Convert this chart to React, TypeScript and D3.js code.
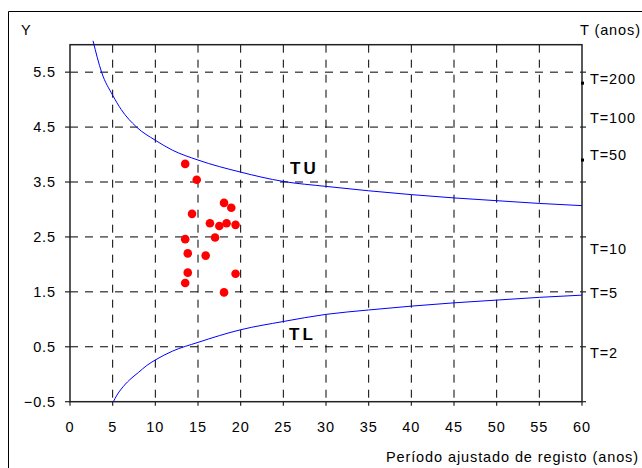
import React from "react";
import * as d3 from "d3";

// Adjusted record length (years) and reduced variate of the observed series
const obsPeriod = [13.5, 14.85, 18.05, 18.9, 14.3, 16.4, 17.5, 18.35, 19.4, 17.0, 13.5, 13.8, 15.9, 13.8, 19.4, 13.5, 18.05];
const obsY = [3.83, 3.54, 3.12, 3.03, 2.92, 2.75, 2.7, 2.75, 2.72, 2.49, 2.46, 2.2, 2.16, 1.85, 1.83, 1.66, 1.49];

// Upper limit curve (TU)
const tuPeriod = [2.7, 3.7, 5, 6, 7.8, 10, 12, 15, 20, 25, 30, 35, 40, 45, 50, 55, 60];
const tuY = [6.07, 5.5, 5.08, 4.82, 4.5, 4.26, 4.08, 3.9, 3.68, 3.51, 3.42, 3.34, 3.27, 3.21, 3.16, 3.11, 3.07];

// Lower limit curve (TL)
const tlPeriod = [5.08, 5.5, 6, 7, 8, 9, 10, 12, 15, 20, 25, 30, 35, 40, 45, 50, 55, 60];
const tlY = [-0.5, -0.38, -0.27, -0.1, 0.03, 0.16, 0.26, 0.42, 0.58, 0.81, 0.96, 1.09, 1.17, 1.24, 1.3, 1.35, 1.4, 1.44];

// Return periods on the secondary axis: label position and marker position (reduced variate)
const returnPeriods = ["T=2", "T=5", "T=10", "T=50", "T=100", "T=200"];
const returnLabelY = [0.39, 1.485, 2.275, 3.99, 4.67, 5.38];
const markedPeriods = ["T=50", "T=200"];
const markedY = [3.9, 5.3];

const xTicks = [0, 5, 10, 15, 20, 25, 30, 35, 40, 45, 50, 55, 60];
const yTicks = [-0.5, 0.5, 1.5, 2.5, 3.5, 4.5, 5.5];

const FONT = "'Liberation Sans', Arial, sans-serif";
const FS = 14.5;
const LS = 0.9;

export default function App() {
  const W = 642;
  const H = 468;
  const left = 70;
  const right = 582;
  const top = 44.7;
  const bottom = 401.7;

  const x = d3.scaleLinear().domain([0, 60]).range([left, right]);
  const y = d3.scaleLinear().domain([-0.5, 6]).range([bottom, top]);

  const line = d3
    .line<[number, number]>()
    .x((d) => x(d[0]))
    .y((d) => y(d[1]))
    .curve(d3.curveMonotoneX);

  const tu = line(tuPeriod.map((p, i) => [p, tuY[i]] as [number, number])) || "";
  const tl = line(tlPeriod.map((p, i) => [p, tlY[i]] as [number, number])) || "";

  const dash = "8,7";

  return (
    <svg
      width={W}
      height={H}
      style={{ position: "absolute", left: 0, top: 0, background: "#fff" }}
      fontFamily={FONT}
    >
      <rect x={0} y={0} width={W} height={H} fill="#fff" />
      {/* outer chart frame */}
      <path d={`M8.5,${H} V11.5 H${W}`} fill="none" stroke="#000" strokeWidth={1} />

      {/* grid */}
      {yTicks
        .filter((t) => t > -0.5)
        .map((t) => (
          <line key={"gy" + t} x1={left} x2={right} y1={y(t)} y2={y(t)} stroke="#000" strokeWidth={1} strokeDasharray={dash} />
        ))}
      {xTicks
        .filter((t) => t > 0 && t < 60)
        .map((t) => (
          <line key={"gx" + t} x1={x(t)} x2={x(t)} y1={top} y2={bottom} stroke="#000" strokeWidth={1} strokeDasharray={dash} />
        ))}

      {/* plot frame / axes */}
      <rect x={left} y={top} width={right - left} height={bottom - top} fill="none" stroke="#222" strokeWidth={1.5} />

      {/* left ticks and labels */}
      {yTicks.map((t) => (
        <g key={"ly" + t}>
          <line x1={left - 5} x2={left} y1={y(t)} y2={y(t)} stroke="#222" strokeWidth={1.2} />
          <text x={left - 14} y={y(t)} dy="0.35em" textAnchor="end" fontSize={FS} letterSpacing={LS} fill="#000">
            {d3.format(".1f")(t)}
          </text>
        </g>
      ))}
      {/* right ticks */}
      {yTicks.map((t) => (
        <line key={"ry" + t} x1={right} x2={right + 4} y1={y(t)} y2={y(t)} stroke="#222" strokeWidth={1.2} />
      ))}

      {/* bottom ticks and labels */}
      {xTicks.map((t) => (
        <g key={"bx" + t}>
          <line x1={x(t)} x2={x(t)} y1={bottom} y2={bottom + 4} stroke="#222" strokeWidth={1.2} />
          <text x={x(t)} y={427} dy="0.35em" textAnchor="middle" fontSize={FS} letterSpacing={LS} fill="#000">
            {t}
          </text>
        </g>
      ))}

      {/* return period labels on secondary axis */}
      {markedY.map((v, i) => (
        <rect key={markedPeriods[i]} x={right - 1} y={y(v) - 1.5} width={3} height={3} fill="#000" />
      ))}
      {returnPeriods.map((lab, i) => (
        <text key={lab} x={590} y={y(returnLabelY[i])} dy="0.35em" fontSize={FS} letterSpacing={LS} fill="#000">
          {lab}
        </text>
      ))}

      {/* limit curves */}
      <path d={tu} fill="none" stroke="#0000ff" strokeWidth={1} />
      <path d={tl} fill="none" stroke="#0000ff" strokeWidth={1} />

      {/* observations */}
      {obsPeriod.map((p, i) => (
        <circle key={"o" + i} cx={x(p)} cy={y(obsY[i])} r={4.3} fill="#ff0000" />
      ))}

      {/* curve labels */}
      <text x={290} y={168} dy="0.35em" fontSize={17} fontWeight="bold" letterSpacing={3} fill="#000">
        TU
      </text>
      <text x={289} y={334} dy="0.35em" fontSize={17} fontWeight="bold" letterSpacing={3} fill="#000">
        TL
      </text>

      {/* axis titles */}
      <text x={21} y={30} dy="0.35em" fontSize={FS} letterSpacing={LS} fill="#000">Y</text>
      <text x={580} y={30} dy="0.35em" fontSize={FS} letterSpacing={LS} fill="#000">T (anos)</text>
      <text x={639} y={457} dy="0.35em" textAnchor="end" fontSize={FS} letterSpacing={LS} fill="#000">
        Período ajustado de registo (anos)
      </text>
    </svg>
  );
}
